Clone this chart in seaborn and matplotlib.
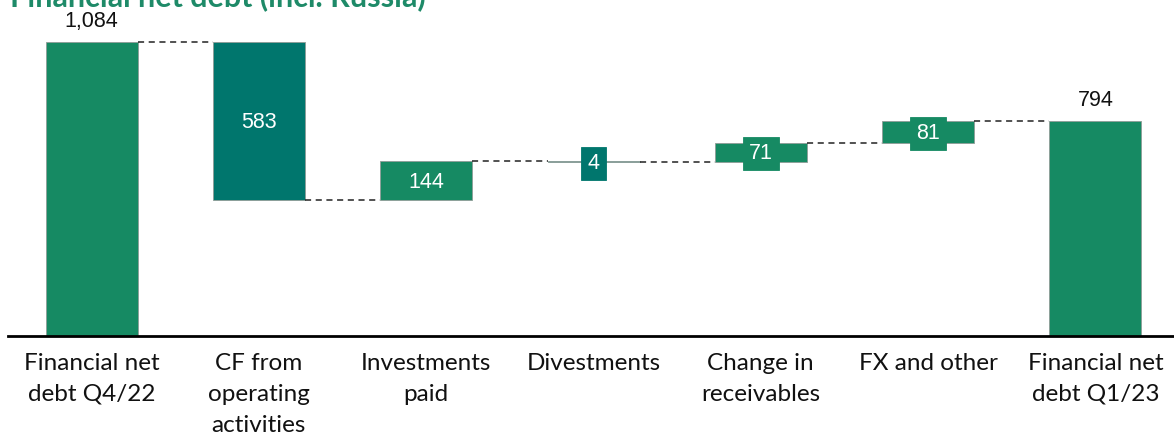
import pandas as pd
import matplotlib.pyplot as plt
import seaborn as sns

# --- dados ---
etapas = [
    'Financial net\ndebt Q4/22',
    'CF from\noperating\nactivities',
    'Investments\npaid',
    'Divestments',
    'Change in\nreceivables',
    'FX and other',
    'Financial net\ndebt Q1/23',
]
valores = [1084, -583, 144, -4, 71, 81, 794]
tipos = ['total', 'queda', 'alta', 'queda', 'alta', 'alta', 'total']
rotulos = ['1,084', '583', '144', '4', '71', '81', '794']
titulo = 'Financial net debt (incl. Russia)'

VERDE = '#168a63'
PETROLEO = '#00766d'
CORES = {'total': VERDE, 'alta': VERDE, 'queda': PETROLEO}

# bases e alturas das barras flutuantes
bases, alturas, niveis = [], [], []
acumulado = 0
for v, t in zip(valores, tipos):
    if t == 'total':
        bases.append(0)
        alturas.append(v)
        acumulado = v
    else:
        novo = acumulado + v
        bases.append(min(acumulado, novo))
        alturas.append(abs(v))
        acumulado = novo
    niveis.append(acumulado)

df = pd.DataFrame({'etapa': etapas, 'altura': alturas, 'base': bases, 'tipo': tipos})

sns.set_style('white')
plt.rcParams['font.family'] = ['Liberation Sans', 'DejaVu Sans']

fig = plt.figure(figsize=(11.74, 4.36), dpi=100)
ax = fig.add_axes([8 / 1174, 100 / 436, 1166 / 1174, 336 / 436])

sns.barplot(data=df, x='etapa', y='altura', hue='etapa',
            palette=[CORES[t] for t in tipos], legend=False, saturation=1,
            width=0.55, edgecolor='#8f9c97', linewidth=0.6, ax=ax)

for i, p in enumerate(ax.patches):
    p.set_y(bases[i])

larg = 0.55
# linhas tracejadas de ligação
for i in range(len(etapas) - 1):
    ax.plot([i + larg / 2, i + 1 - larg / 2], [niveis[i], niveis[i]],
            color='#222222', linestyle=(0, (4, 3)), linewidth=1.1, zorder=1)

# rótulos
for i, (t, r) in enumerate(zip(tipos, rotulos)):
    if t == 'total':
        ax.text(i, alturas[i] + 55, r, ha='center', va='baseline',
                fontsize=15.5, color='#111111')
    else:
        meio = bases[i] + alturas[i] / 2
        caixa = None
        if alturas[i] < 100:
            caixa = dict(boxstyle='square,pad=0.28', facecolor=CORES[t],
                         edgecolor=CORES[t], linewidth=0.6)
        ax.text(i, meio + 4, r, ha='center', va='center_baseline', fontsize=15.5,
                color='white', bbox=caixa, zorder=4)

ax.set_xlim(-0.5, 6.47)
ax.set_ylim(0, 1239)
ax.set_xlabel('')
ax.set_ylabel('')
ax.set_yticks([])
ax.tick_params(axis='x', length=0, pad=12)
for lbl in ax.get_xticklabels():
    lbl.set_fontfamily(['Lato', 'DejaVu Sans'])
    lbl.set_fontsize(17.5)
    lbl.set_color('#111111')
    lbl.set_linespacing(1.6)
    lbl.set_va('top')
for lado in ['top', 'left', 'right']:
    ax.spines[lado].set_visible(False)
ax.spines['bottom'].set_color('black')
ax.spines['bottom'].set_linewidth(2)

fig.text(10 / 1174, 430 / 436, titulo, color='#1e8a68', fontsize=22,
         fontweight='bold', va='baseline', family=['Lato', 'DejaVu Sans'])

fig.savefig('out.png', dpi=100)
